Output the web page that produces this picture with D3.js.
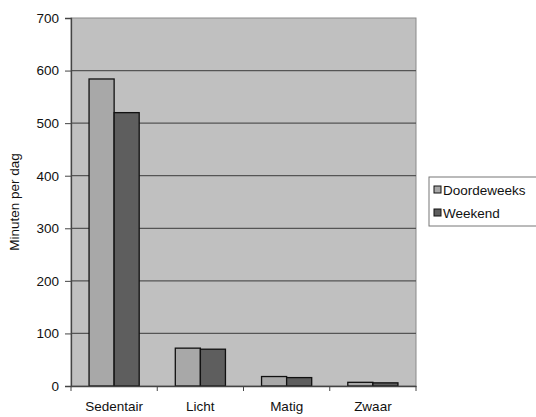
<!DOCTYPE html>
<html>
<head>
<meta charset="utf-8" />
<title>Minuten per dag</title>
<script src="https://d3js.org/d3.v7.min.js"></script>
<style>
  body { margin: 0; background: #fff; }
  text { font-family: "Liberation Sans", Arial, sans-serif; fill: #111; }
</style>
</head>
<body>
<script>
// data
var categories = ["Sedentair", "Licht", "Matig", "Zwaar"];
var seriesNames = ["Doordeweeks", "Weekend"];
var doordeweeks = [584, 72, 18, 7];
var weekend = [520, 70, 16, 6];
var yTicks = [0, 100, 200, 300, 400, 500, 600, 700];

var colors = ["#a8a8a8", "#5e5e5e"];
var fs = "13.5px";

var svg = d3.select("body").append("svg")
    .attr("width", 536)
    .attr("height", 417);

// plot area (window.top is reserved, so plot* names)
var plotL = 71, plotR = 416, plotT = 18, plotB = 386;

var x = d3.scaleBand().domain(categories).range([plotL, plotR]);
var xs = d3.scaleBand().domain(seriesNames).range([0, x.bandwidth()]).paddingInner(0).paddingOuter(0.72);
var y = d3.scaleLinear().domain([0, 700]).range([plotB, plotT]);

// plot background
svg.append("rect")
    .attr("x", plotL).attr("y", plotT)
    .attr("width", plotR - plotL).attr("height", plotB - plotT)
    .attr("fill", "#c0c0c0")
    .attr("stroke", "#8a8a8a");

// gridlines
svg.append("g").selectAll("line")
    .data(yTicks.slice(1, -1))
    .enter().append("line")
    .attr("x1", plotL).attr("x2", plotR)
    .attr("y1", function(d){ return y(d); })
    .attr("y2", function(d){ return y(d); })
    .attr("stroke", "#555")
    .attr("stroke-width", 1.2);

// bars
var rows = categories.map(function(c, i){
  return { cat: c, values: [doordeweeks[i], weekend[i]] };
});
var group = svg.append("g").selectAll("g")
    .data(rows)
    .enter().append("g")
    .attr("transform", function(d){ return "translate(" + x(d.cat) + ",0)"; });

group.selectAll("rect")
    .data(function(d){ return d.values.map(function(v, j){ return { name: seriesNames[j], v: v, j: j }; }); })
    .enter().append("rect")
    .attr("x", function(d){ return xs(d.name); })
    .attr("width", xs.bandwidth())
    .attr("y", function(d){ return y(d.v); })
    .attr("height", function(d){ return y(0) - y(d.v); })
    .attr("fill", function(d){ return colors[d.j]; })
    .attr("stroke", "#111")
    .attr("stroke-width", 1.3);

// y axis
var yAxis = svg.append("g")
    .attr("transform", "translate(" + plotL + ",0)")
    .call(d3.axisLeft(y).tickValues(yTicks).tickSize(6).tickPadding(6));
yAxis.select(".domain").attr("stroke", "#444").attr("stroke-width", 1.3);
yAxis.selectAll(".tick line").attr("stroke", "#444");
yAxis.selectAll("text").style("font-size", fs).attr("fill", "#111");

// x axis
var xAxis = svg.append("g")
    .attr("transform", "translate(0," + plotB + ")")
    .call(d3.axisBottom(x).tickSize(0).tickPadding(15));
xAxis.select(".domain").attr("stroke", "#444").attr("stroke-width", 1.3);
xAxis.selectAll("text").style("font-size", fs).attr("fill", "#111");
xAxis.selectAll(".sep")
    .data(categories.concat(["end"]))
    .enter().append("line")
    .attr("class", "sep")
    .attr("x1", function(d, i){ return plotL + i * x.bandwidth(); })
    .attr("x2", function(d, i){ return plotL + i * x.bandwidth(); })
    .attr("y1", 0).attr("y2", 5)
    .attr("stroke", "#444");

// y label
svg.append("text")
    .attr("transform", "translate(19," + ((plotT + plotB) / 2) + ") rotate(-90)")
    .attr("text-anchor", "middle")
    .style("font-size", fs)
    .text("Minuten per dag");

// legend
var legend = svg.append("g").attr("transform", "translate(429,177)");
legend.append("rect")
    .attr("width", 120).attr("height", 49)
    .attr("fill", "#fff").attr("stroke", "#777");
var items = legend.selectAll(".item")
    .data(seriesNames)
    .enter().append("g")
    .attr("class", "item")
    .attr("transform", function(d, i){ return "translate(5," + (13 + i * 23) + ")"; });
items.append("rect")
    .attr("x", 0).attr("y", -4)
    .attr("width", 7).attr("height", 7)
    .attr("fill", function(d, i){ return colors[i]; })
    .attr("stroke", "#111");
items.append("text")
    .attr("x", 9).attr("y", 0)
    .attr("dy", "0.35em")
    .style("font-size", fs)
    .text(function(d){ return d; });
</script>
</body>
</html>
